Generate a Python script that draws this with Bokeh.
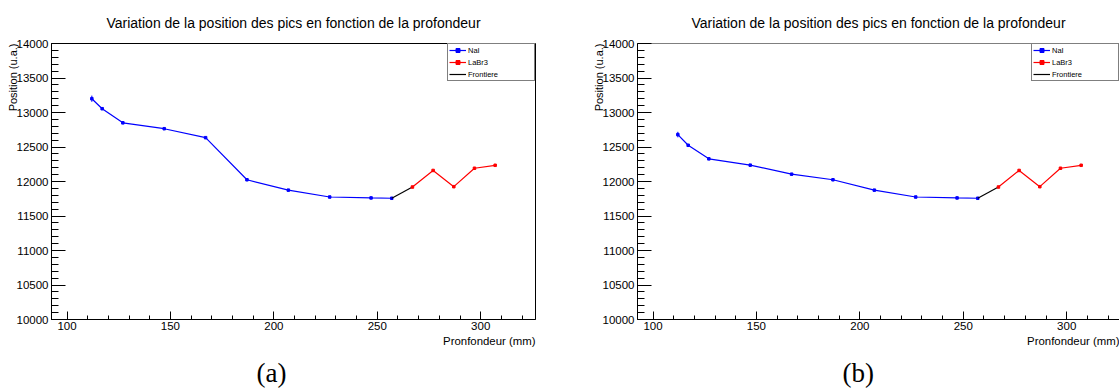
import numpy as np
from bokeh.plotting import figure
from bokeh.models import Range1d, SingleIntervalTicker, Legend, LegendItem, Span, Title
from bokeh.layouts import row
from bokeh.embed import file_html
from bokeh.resources import INLINE

# ---- data ----
depth_nai = [112, 117, 127, 147, 167, 187, 207, 227, 247, 257]
pos_nai_a = [13200, 13055, 12850, 12765, 12635, 12025, 11875, 11775, 11762, 11757]
err_nai_a = [45, 8, 8, 8, 8, 8, 8, 8, 8, 8]
pos_nai_b = [12680, 12525, 12328, 12237, 12106, 12025, 11875, 11775, 11762, 11757]
err_nai_b = [40, 8, 8, 8, 8, 8, 8, 8, 8, 8]

depth_front = [257, 267]
pos_front = [11757, 11920]

depth_labr = [267, 277, 287, 297, 307]
pos_labr = [11920, 12160, 11925, 12192, 12235]
err_labr = [8, 8, 8, 8, 8]

title_text = "Variation de la position des pics en fonction de la profondeur"
xlabel_text = "Pronfondeur (mm)"
ylabel_text = "Position (u.a.)"
legend_labels = ["NaI", "LaBr3", "Frontiere"]
captions = ["(a)", "(b)"]

X_START, X_END = 92.5, 326.5
Y_START, Y_END = 10000, 14000
FONT = "Liberation Sans"


def make_panel(pos_nai, err_nai, caption, frame_w, x_end, border_right, clipped):
    p = figure(frame_width=frame_w, frame_height=276,
               x_range=Range1d(X_START, x_end), y_range=Range1d(Y_START, Y_END),
               min_border_left=51, min_border_right=border_right,
               min_border_top=43, min_border_bottom=70,
               output_backend="svg", toolbar_location=None,
               background_fill_color="white", border_fill_color="white")
    p.xgrid.visible = False
    p.ygrid.visible = False
    if clipped:
        p.outline_line_color = None
        p.add_layout(Span(location=Y_END, dimension="width", line_color="black", line_width=1))
    else:
        p.outline_line_color = "black"
        p.outline_line_width = 1
        p.outline_line_alpha = 1

    # title
    p.title.text = title_text
    p.title.align = "center"
    p.title.text_font = FONT
    p.title.text_font_size = "14px"
    p.title.text_font_style = "normal"
    p.title.text_color = "black"
    p.title.standoff = 25

    # axes
    p.xaxis.ticker = SingleIntervalTicker(interval=50, num_minor_ticks=5)
    p.yaxis.ticker = SingleIntervalTicker(interval=500, num_minor_ticks=5)
    for ax in (p.xaxis, p.yaxis):
        ax.axis_line_color = "black"
        ax.axis_line_width = 1
        ax.major_tick_line_color = "black"
        ax.minor_tick_line_color = "black"
        ax.major_tick_out = 0
        ax.minor_tick_out = 0
        ax.major_label_text_font = FONT
        ax.major_label_text_font_size = "11.5px"
        ax.major_label_text_color = "black"
    p.yaxis.major_tick_in = 14
    p.yaxis.minor_tick_in = 7
    p.xaxis.major_tick_in = 8
    p.xaxis.minor_tick_in = 4
    p.yaxis.major_label_standoff = 3
    p.xaxis.major_label_standoff = 2

    # axis titles and caption
    p.add_layout(Title(text=ylabel_text, align="right", text_font=FONT,
                       text_font_size="11px", text_font_style="normal",
                       text_color="black", standoff=-10), "left")
    p.add_layout(Title(text=xlabel_text, align="right", text_font=FONT,
                       text_font_size="11.4px", text_font_style="normal",
                       text_color="black", standoff=0), "below")
    p.add_layout(Title(text=caption, align="left", text_font="Liberation Serif",
                       text_font_size="27px", text_font_style="normal",
                       text_color="black", standoff=18, offset=205), "below")

    # data
    xn = np.array(depth_nai)
    yn = np.array(pos_nai)
    en = np.array(err_nai)
    xl = np.array(depth_labr)
    yl = np.array(pos_labr)
    el = np.array(err_labr)

    l_nai = p.line(xn, yn, line_color="blue", line_width=1.2)
    p.segment(xn, yn - en, xn, yn + en, line_color="blue", line_width=1)
    s_nai = p.scatter(xn, yn, marker="square", size=2.5, color="blue")

    l_front = p.line(depth_front, pos_front, line_color="black", line_width=1.2)

    l_labr = p.line(xl, yl, line_color="red", line_width=1.2)
    p.segment(xl, yl - el, xl, yl + el, line_color="red", line_width=1)
    s_labr = p.scatter(xl, yl, marker="square", size=2.5, color="red")

    legend = Legend(items=[
        LegendItem(label=legend_labels[0], renderers=[l_nai, s_nai]),
        LegendItem(label=legend_labels[1], renderers=[l_labr, s_labr]),
        LegendItem(label=legend_labels[2], renderers=[l_front]),
    ], location="top_right")
    legend.margin = 0
    legend.padding = 1
    legend.spacing = 2
    legend.glyph_width = 17
    legend.glyph_height = 10
    legend.label_height = 10
    legend.label_width = 65
    legend.label_standoff = 2
    legend.label_text_font = FONT
    legend.label_text_font_size = "7.5px"
    legend.label_text_color = "black"
    legend.border_line_color = "black"
    legend.border_line_width = 1
    legend.background_fill_color = "white"
    legend.background_fill_alpha = 1
    p.add_layout(legend)
    return p


pa = make_panel(pos_nai_a, err_nai_a, captions[0], 484, X_END, 51, False)
pb = make_panel(pos_nai_b, err_nai_b, captions[1], 482,
                X_START + 482 / (484 / (X_END - X_START)), 0, True)

layout = row(pa, pb)
open("out.html", "w").write(file_html(layout, INLINE))
